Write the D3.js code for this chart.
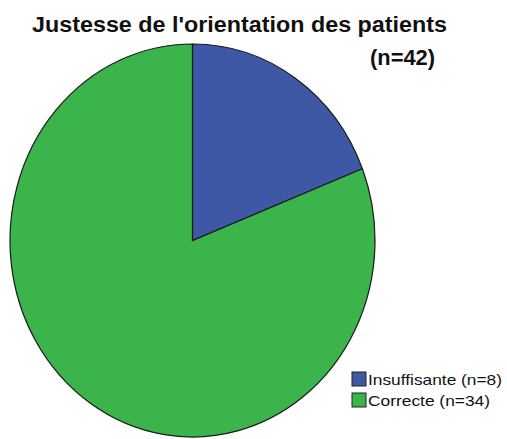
<!DOCTYPE html>
<html><head><meta charset="utf-8">
<script src="https://cdn.jsdelivr.net/npm/d3@7"></script>
<style>body{margin:0;background:#fff}</style>
</head><body>
<svg id="chart" width="507" height="439"></svg>
<script>
const categories = ["Insuffisante (n=8)", "Correcte (n=34)"];
const values = [8, 34];
const colors = ["#3e58a6", "#3bb44b"];
const title = "Justesse de l'orientation des patients";
const subtitle = "(n=42)";

const svg = d3.select("#chart");
const cx = 192.5, cy = 240.5, rx = 182.5, ry = 196.5;

const pie = d3.pie().sort(null).value(d => d)(values);
const arc = d3.arc().innerRadius(0).outerRadius(1);

const g = svg.append("g").attr("transform", `translate(${cx},${cy}) scale(${rx},${ry})`);
g.selectAll("path").data(pie).enter().append("path")
  .attr("d", arc)
  .attr("fill", (d, i) => colors[i])
  .attr("stroke", "#1a1a1a")
  .attr("stroke-width", 1.2)
  .attr("vector-effect", "non-scaling-stroke");

svg.append("text").attr("x", 32).attr("y", 32)
  .attr("font-family", "Liberation Sans, Arial").attr("font-weight", "bold").attr("font-size", 22.5)
  .attr("textLength", 415).attr("lengthAdjust", "spacingAndGlyphs")
  .attr("fill", "#111").text(title);
svg.append("text").attr("x", 370).attr("y", 65)
  .attr("font-family", "Liberation Sans, Arial").attr("font-weight", "bold").attr("font-size", 22.5)
  .attr("textLength", 65).attr("lengthAdjust", "spacingAndGlyphs")
  .attr("fill", "#111").text(subtitle);

const leg = svg.append("g");
categories.forEach((c, i) => {
  const y0 = 372 + i * 21;
  leg.append("rect").attr("x", 352).attr("y", y0).attr("width", 14).attr("height", 14)
    .attr("fill", colors[i]).attr("stroke", "#222").attr("stroke-width", 1);
  leg.append("text").attr("x", 368).attr("y", y0 + 13)
    .attr("font-family", "Liberation Sans, Arial").attr("font-size", 15)
    .attr("textLength", i === 0 ? 134 : 122).attr("lengthAdjust", "spacingAndGlyphs")
    .attr("fill", "#111").text(c);
});
</script>
</body></html>
